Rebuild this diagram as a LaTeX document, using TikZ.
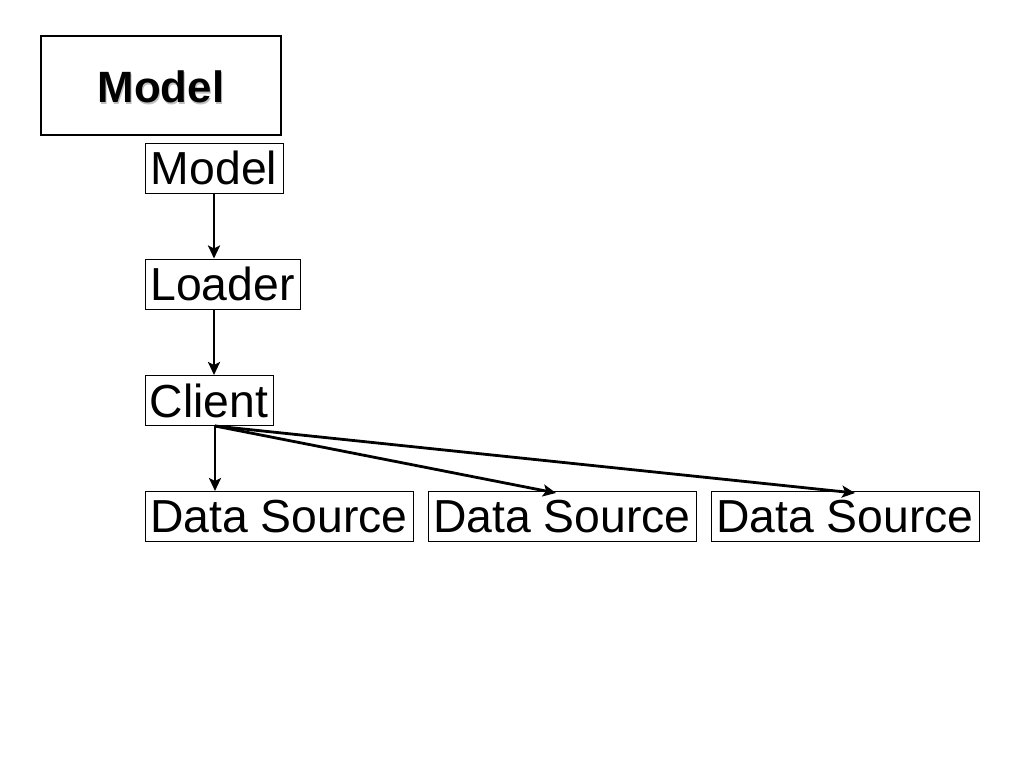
\documentclass[tikz,border=0pt]{standalone}
\usepackage{fontspec}
\setmainfont{Liberation Sans}
\usetikzlibrary{arrows.meta,positioning}
\begin{document}
\begin{tikzpicture}[x=1bp,y=-1bp,
  lbl/.style={draw,line width=1bp,inner sep=0pt,minimum height=50bp,font=\fontsize{46.5}{50}\selectfont,text depth=0pt},
  arr/.style={line width=2.8bp,-{Stealth[length=13bp,width=12bp,inset=3bp]}},
  titlebox/.style={draw,line width=2.2bp,minimum width=240bp,minimum height=99bp,inner sep=0pt}]
\path[use as bounding box,fill=white] (0,0) rectangle (1024,768);
\node[titlebox] (title) at (161,85.5) {};
\node[text=black!25,font=\bfseries\fontsize{44}{48}\selectfont] (titleshadow) at (162,88.5) {Model};
\node[font=\bfseries\fontsize{44}{48}\selectfont] (titletext) at (161,87) {Model};
\node[lbl,minimum width=138bp] (model) at (214,168) {Model};
\node[lbl,minimum width=155bp] (loader) at (222.5,284) {Loader};
\node[lbl,minimum width=128bp] (client) at (209,400.5) {Client};
\node[lbl,minimum width=268bp] (ds1) at (279,516.5) {Data Source};
\node[lbl,minimum width=268bp] (ds2) at (562,516.5) {Data Source};
\node[lbl,minimum width=268bp] (ds3) at (845,516.5) {Data Source};
\draw[arr] (model.south) -- (loader.north -| model.south);
\draw[arr] (loader.south -| model.south) -- (client.north -| model.south);
\coordinate (cs) at ([xshift=6bp]client.south);
\draw[arr] (cs) -- (ds1.north -| cs);
\draw[arr] (cs) -- ([xshift=-6bp,yshift=-2bp]ds2.north);
\draw[arr] (cs) -- ([xshift=10bp,yshift=-2bp]ds3.north);
\end{tikzpicture}
\end{document}
